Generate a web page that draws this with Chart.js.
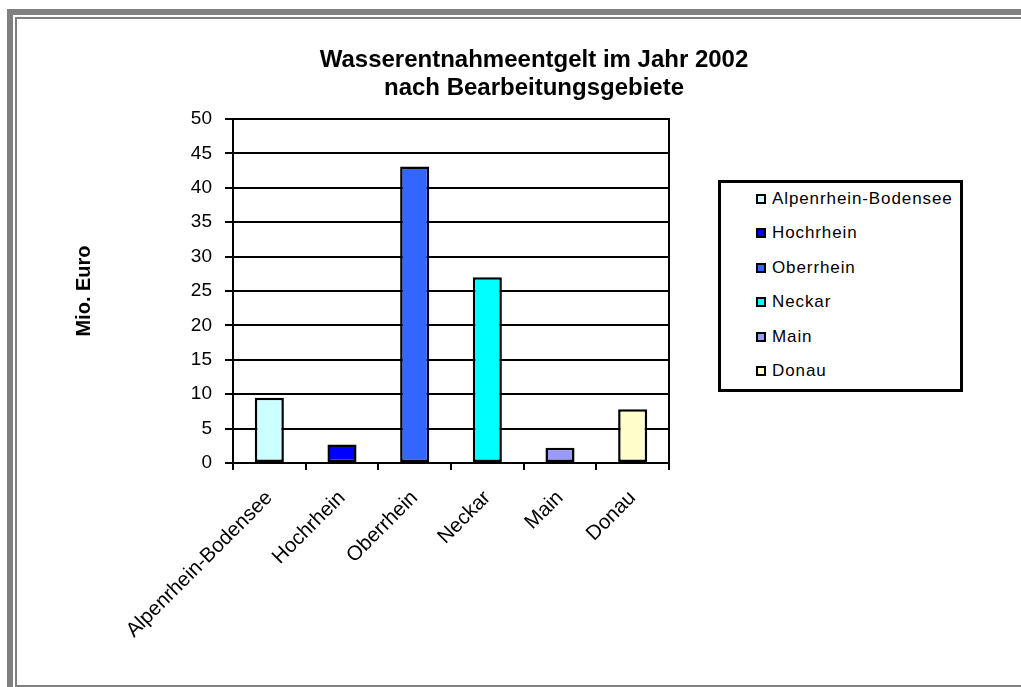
<!DOCTYPE html>
<html lang="de">
<head>
  <meta charset="UTF-8" />
  <title>Wasserentnahmeentgelt 2002</title>
  <script src="https://cdn.jsdelivr.net/npm/chart.js"></script>
  <style>
    html, body { margin: 0; padding: 0; background: #fff; }
    body { width: 1021px; height: 687px; position: relative; overflow: hidden; font-family: "Liberation Sans", Arial, sans-serif; }
    #frameOuter { position: absolute; left: 7px; top: 9px; width: 1100px; height: 800px;
      border-left: 6px solid #808080; border-top: 6px solid #808080; }
    #frameInner { position: absolute; left: 15px; top: 17px; width: 1100px; height: 670px; box-sizing: border-box;
      border-left: 2px solid #808080; border-top: 2px solid #808080; border-bottom: 2px solid #808080; }
    #chart { position: absolute; left: 0; top: 0; }
    #legend { position: absolute; left: 718px; top: 180px; width: 245px; height: 212px; box-sizing: border-box;
      border: 3px solid #000; background: #fff; }
    .item { position: absolute; left: 35px; height: 20px; display: flex; align-items: center;
      font-size: 17px; letter-spacing: 0.9px; color: #000; white-space: nowrap; }
    .swatch { width: 10px; height: 10px; box-sizing: border-box; border: 2px solid #000; margin-right: 6px; }
  </style>
</head>
<body>
<div id="frameOuter"></div>
<div id="frameInner"></div>
<canvas id="chart" width="1021" height="687"></canvas>
<div id="legend"></div>

<script>
  // Bearbeitungsgebiete und Entgelt in Mio. Euro
  const gebiete = ["Alpenrhein-Bodensee", "Hochrhein", "Oberrhein", "Neckar", "Main", "Donau"];
  const entgelt = [9.5, 2.7, 43.1, 27.0, 2.2, 7.8];
  const farben = ["#CCFFFF", "#0000FF", "#3366FF", "#00FFFF", "#9999FF", "#FFFFCC"];
  const titel = ["Wasserentnahmeentgelt im Jahr 2002", "nach Bearbeitungsgebiete"];
  const achsenTitel = "Mio. Euro";

  const schrift = '"Liberation Sans", Arial, sans-serif';

  const ctx = document.getElementById('chart').getContext('2d');
  const chart = new Chart(ctx, {
    type: 'bar',
    data: {
      labels: gebiete,
      datasets: [{
        data: entgelt,
        backgroundColor: farben,
        borderColor: '#000',
        borderWidth: 2.5,
        borderSkipped: false,
        categoryPercentage: 1.0,
        barPercentage: 0.4
      }]
    },
    options: {
      responsive: false,
      animation: false,
      layout: { padding: { left: 47, right: 0, top: 0, bottom: 0 } },
      plugins: {
        legend: { display: false },
        tooltip: { enabled: false },
        title: {
          display: true,
          text: titel,
          color: '#000',
          font: { family: schrift, size: 24, weight: 'bold', lineHeight: 28 / 24 },
          padding: { top: 46, bottom: 17 }
        }
      },
      scales: {
        x: {
          grid: { drawOnChartArea: false, drawTicks: true, tickLength: 7, color: '#000', lineWidth: 2 },
          border: { display: true, color: '#000', width: 2 },
          ticks: { autoSkip: false, minRotation: 45, maxRotation: 45, padding: 16, color: '#000',
                   font: { family: schrift, size: 20.5 } },
          afterFit: s => { s.height = 687 - 463; }
        },
        y: {
          min: 0,
          max: 50,
          grid: { color: '#000', lineWidth: 2, tickLength: 8 },
          border: { display: true, color: '#000', width: 2 },
          ticks: { stepSize: 5, padding: 13, color: '#000', font: { family: schrift, size: 19 } },
          title: {
            display: true,
            text: achsenTitel,
            color: '#000',
            font: { family: schrift, size: 20, weight: 'bold' },
            padding: { top: 25, bottom: 0 }
          },
          afterFit: s => { s.width = 233 - 47; }
        },
        // rechte Achse nur als Rahmenlinie und Platz fuer die Legende
        y2: {
          position: 'right',
          display: true,
          grid: { drawOnChartArea: false, drawTicks: false },
          border: { display: true, color: '#000', width: 2 },
          ticks: { display: false },
          afterFit: s => { s.width = 1021 - 669; }
        }
      }
    }
  });

  // Legende
  const legend = document.getElementById('legend');
  gebiete.forEach((name, i) => {
    const row = document.createElement('div');
    row.className = 'item';
    row.style.top = (5.5 + i * 34.5) + 'px';
    const sw = document.createElement('span');
    sw.className = 'swatch';
    sw.style.background = farben[i];
    const txt = document.createElement('span');
    txt.textContent = name;
    row.appendChild(sw);
    row.appendChild(txt);
    legend.appendChild(row);
  });
</script>
</body>
</html>
